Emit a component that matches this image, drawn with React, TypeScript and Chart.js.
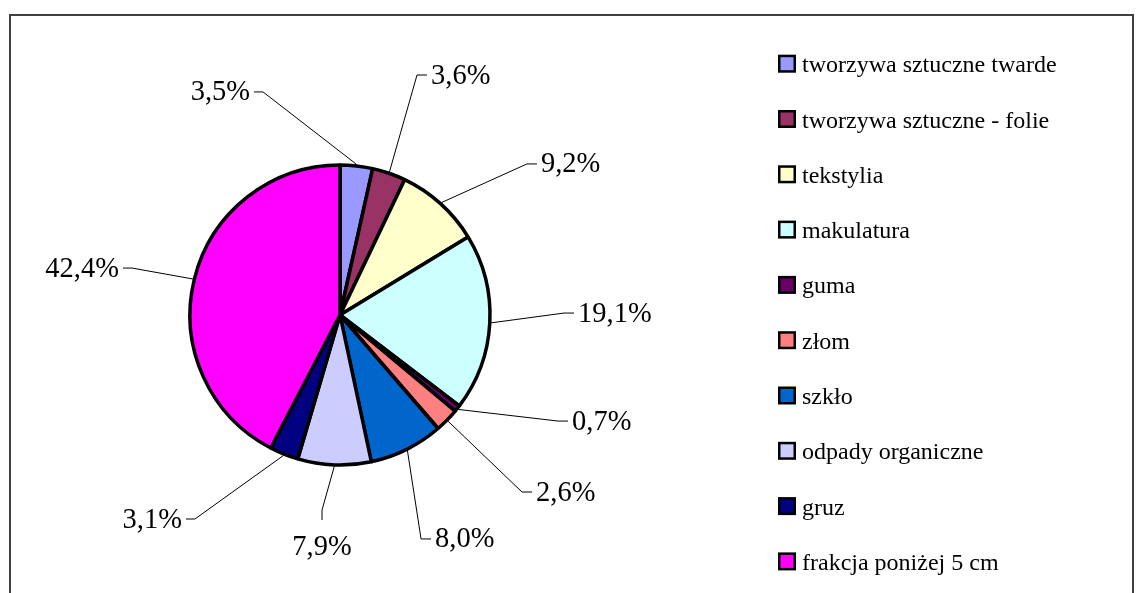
import { useEffect, useRef } from "react";
import { Chart, registerables } from "chart.js";

Chart.register(...registerables);

// ---- data ----
const categories = [
  "tworzywa sztuczne twarde",
  "tworzywa sztuczne - folie",
  "tekstylia",
  "makulatura",
  "guma",
  "złom",
  "szkło",
  "odpady organiczne",
  "gruz",
  "frakcja poniżej 5 cm",
];
const shares = [3.5, 3.6, 9.2, 19.1, 0.7, 2.6, 8.0, 7.9, 3.1, 42.4];

// ---- styles ----
const sliceColors = [
  "#9999FF",
  "#993366",
  "#FFFFCC",
  "#CCFFFF",
  "#660066",
  "#FF8080",
  "#0066CC",
  "#CCCCFF",
  "#000080",
  "#FF00FF",
];

// label placement (relative to pie centre, in units of the pie radius)
// side: where the text sits relative to the leader-line end
const labelLayout = [
  { x: -0.573, y: -1.487, side: "left" },
  { x: 0.58, y: -1.6, side: "right" },
  { x: 1.313, y: -1.007, side: "right" },
  { x: 1.56, y: -0.013, side: "right" },
  { x: 1.52, y: 0.707, side: "right" },
  { x: 1.28, y: 1.18, side: "right" },
  { x: 0.607, y: 1.493, side: "right" },
  { x: -0.12, y: 1.367, side: "below" },
  { x: -1.027, y: 1.36, side: "left" },
  { x: -1.447, y: -0.313, side: "left" },
];

const FONT = "'Liberation Serif', 'Times New Roman', serif";

const fmt = (v: number) => v.toFixed(1).replace(".", ",") + "%";

const labelPlugin = {
  id: "leaderLabels",
  afterDatasetsDraw(chart: any) {
    const ctx = chart.ctx;
    const meta = chart.getDatasetMeta(0);
    ctx.save();
    ctx.strokeStyle = "#000";
    ctx.lineWidth = 1;
    ctx.fillStyle = "#000";
    ctx.font = `28.5px ${FONT}`;
    ctx.textBaseline = "alphabetic";
    meta.data.forEach((arc: any, i: number) => {
      const p = arc.getProps(["x", "y", "startAngle", "endAngle", "outerRadius"], true);
      const mid = (p.startAngle + p.endAngle) / 2;
      const r0 = p.outerRadius + 1.5;
      const sx = p.x + Math.cos(mid) * r0;
      const sy = p.y + Math.sin(mid) * r0;
      const L = labelLayout[i];
      const ax = p.x + L.x * p.outerRadius;
      const ay = p.y + L.y * p.outerRadius;
      let ex = ax;
      let ey = ay;
      let tx = ax;
      let ty = ay + 8.5;
      if (L.side === "left") {
        ex = ax + 9;
        tx = ax - 4;
        ctx.textAlign = "right";
      } else if (L.side === "right") {
        ex = ax - 10;
        tx = ax + 4;
        ctx.textAlign = "left";
      } else {
        ey = ay - 10;
        ty = ay + 35;
        ctx.textAlign = "center";
      }
      ctx.beginPath();
      ctx.moveTo(sx, sy);
      ctx.lineTo(ex, ey);
      ctx.lineTo(ax, ay);
      ctx.stroke();
      ctx.fillText(fmt(shares[i]), tx, ty);
    });
    ctx.restore();
  },
};

const legendPlugin = {
  id: "sideLegend",
  afterDraw(chart: any) {
    const ctx = chart.ctx;
    const x0 = 778;
    const y0 = 63.7;
    const step = 55.3;
    const box = 18;
    ctx.save();
    ctx.font = `24px ${FONT}`;
    ctx.textAlign = "left";
    ctx.textBaseline = "alphabetic";
    chart.data.labels.forEach((lab: string, i: number) => {
      const cy = y0 + i * step;
      ctx.fillStyle = "#000";
      ctx.fillRect(x0, cy - box / 2, box, box);
      ctx.fillStyle = sliceColors[i];
      ctx.fillRect(x0 + 2.5, cy - box / 2 + 2.5, box - 5, box - 5);
      ctx.fillStyle = "#000";
      ctx.fillText(lab, x0 + box + 6, cy + 8.5);
    });
    ctx.restore();
  },
};

export default function App() {
  const ref = useRef<HTMLCanvasElement | null>(null);
  useEffect(() => {
    if (!ref.current) return;
    const chart = new Chart(ref.current, {
      type: "pie",
      data: {
        labels: categories,
        datasets: [
          {
            data: shares,
            backgroundColor: sliceColors,
            borderColor: "#000",
            borderWidth: 3.5,
          },
        ],
      },
      options: {
        responsive: false,
        animation: false,
        devicePixelRatio: 1,
        radius: 150,
        layout: { padding: { left: 20, right: 481, top: 40, bottom: 3 } },
        plugins: {
          legend: { display: false },
          tooltip: { enabled: false },
          title: { display: false },
        },
      } as any,
      plugins: [labelPlugin, legendPlugin],
    });
    return () => chart.destroy();
  }, []);
  return (
    <div>
      <div
        style={{
          position: "absolute",
          left: 9,
          top: 14,
          width: 1125,
          height: 579,
          borderTop: "2px solid #404040",
          borderLeft: "2px solid #404040",
          borderRight: "2px solid #404040",
          boxSizing: "border-box",
          background: "#fff",
        }}
      />
      <canvas
        ref={ref}
        width={1141}
        height={593}
        style={{ position: "absolute", left: 0, top: 0, width: 1141, height: 593 }}
      />
    </div>
  );
}
